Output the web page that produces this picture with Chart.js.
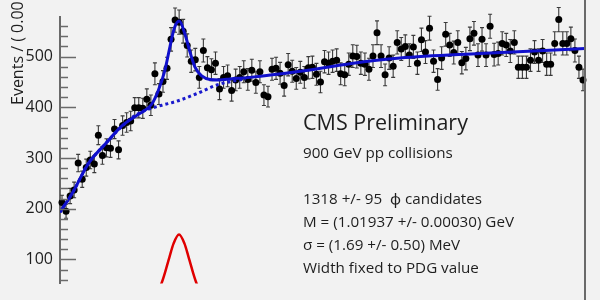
<!DOCTYPE html>
<html>
<head>
<meta charset="utf-8">
<script src="https://cdn.jsdelivr.net/npm/chart.js@4.4.0/dist/chart.umd.min.js"></script>
<style>
  html, body { margin: 0; padding: 0; background: #f2f2f2; }
</style>
</head>
<body>
<canvas id="myChart" width="600" height="300"></canvas>
<script>
// K+K- invariant mass histogram, 1 MeV bins starting at 0.99 GeV
const binLow = 0.99;
const binWidth = 0.001;
const counts = [
  212, 195, 225, 237, 290, 258, 281, 296, 288, 345,
  305, 320, 319, 357, 316, 364, 370, 373, 399, 399,
  398, 416, 404, 466, 426, 451, 477, 534, 572, 568,
  550, 522, 491, 494, 459, 512, 478, 474, 487, 436,
  459, 462, 433, 454, 459, 470, 455, 473, 449, 470,
  424, 421, 475, 477, 467, 443, 484, 471, 457, 469,
  459, 478, 479, 465, 450, 490, 487, 491, 493, 466,
  464, 485, 501, 500, 487, 485, 475, 501, 547, 501,
  464, 497, 481, 528, 515, 520, 503, 519, 487, 533,
  509, 556, 491, 455, 497, 544, 523, 508, 528, 488,
  496, 535, 546, 503, 534, 503, 560, 504, 506, 526,
  523, 511, 528, 479, 479, 479, 493, 509, 493, 511,
  485, 485, 526, 573, 526, 526, 535, 512, 479, 454
];

// total fit (signal + background)
const fitMass   = [0.99, 0.99329, 0.99701, 1.00114, 1.00528, 1.00939, 1.01271, 1.01434, 1.016, 1.01724, 1.0183, 1.01954, 1.02095, 1.02219, 1.02343, 1.02509, 1.02714, 1.02962, 1.0321, 1.03705, 1.04943, 1.06181, 1.07419, 1.094, 1.12];
const fitEvents = [193, 234, 289, 327, 363, 386, 406, 433, 474, 520, 556, 570, 544, 509, 479, 462, 455, 454, 456, 459, 471, 486, 497, 506, 516];

// background only (dotted)
const bkgMass   = [0.99, 0.99329, 0.99701, 1.00114, 1.00528, 1.00864, 1.0115, 1.01521, 1.01893, 1.02388, 1.02883, 1.03378, 1.036];
const bkgEvents = [193, 234, 289, 327, 362, 384, 395, 404, 412, 427, 444, 453, 456];

// signal only (red)
const sigMass   = [1.005, 1.01, 1.0125, 1.01514, 1.01712, 1.01811, 1.01947, 1.02083, 1.02182, 1.0238, 1.0265, 1.031, 1.036];
const sigEvents = [3, 10, 22, 53, 105, 131, 149, 131, 105, 53, 22, 10, 3];

const yTicks = [100, 200, 300, 400, 500];
const yTitle = "Events / ( 0.001 GeV )";
const headline = "CMS Preliminary";
const infoLines = [
  { text: "900 GeV pp collisions", y: 158 },
  { text: "1318 +/- 95  \u03d5 candidates", y: 204 },
  { text: "M = (1.01937 +/- 0.00030) GeV", y: 227 },
  { text: "\u03c3 = (1.69 +/- 0.50) MeV", y: 250 },
  { text: "Width fixed to PDG value", y: 272.5 }
];

const FONT = "'Open Sans', 'Noto Sans', sans-serif";

const points = counts.map((c, i) => ({ x: binLow + binWidth * (i + 0.5), y: c }));
const pairs = (xs, ys) => xs.map((x, i) => ({ x: x, y: ys[i] }));

// error bars (sqrt N) drawn just before the markers
const errorBars = {
  id: 'errorBars',
  beforeDatasetDraw(chart, args) {
    if (args.index !== 0) return;
    const ctx = chart.ctx, xs = chart.scales.x, ys = chart.scales.y;
    ctx.save();
    ctx.strokeStyle = '#3a3a3a';
    ctx.lineWidth = 1.1;
    counts.forEach((c, i) => {
      const px = xs.getPixelForValue(points[i].x);
      const e = Math.sqrt(c);
      const top = ys.getPixelForValue(c + e), bot = ys.getPixelForValue(c - e);
      ctx.beginPath();
      ctx.moveTo(px, top); ctx.lineTo(px, bot);
      ctx.moveTo(px - 2, top); ctx.lineTo(px + 2, top);
      ctx.moveTo(px - 2, bot); ctx.lineTo(px + 2, bot);
      ctx.stroke();
    });
    ctx.restore();
  }
};

// inward ticks, right frame and text
const decor = {
  id: 'decor',
  afterDraw(chart) {
    const ctx = chart.ctx, ys = chart.scales.y, a = chart.chartArea;
    ctx.save();
    ctx.strokeStyle = '#6a6a6a';
    ctx.lineWidth = 1.5;
    for (let v = 60; v <= 570; v += 20) {
      const py = Math.round(ys.getPixelForValue(v)) + 0.5;
      const len = (v % 100 === 0) ? 16 : 8;
      ctx.beginPath();
      ctx.moveTo(a.left, py); ctx.lineTo(a.left + len, py);
      ctx.stroke();
    }
    ctx.lineWidth = 2;
    ctx.beginPath();
    ctx.moveTo(a.right, 0); ctx.lineTo(a.right, chart.height);
    ctx.stroke();

    ctx.fillStyle = '#1e1e1e';
    ctx.save();
    ctx.translate(23, 105);
    ctx.rotate(-Math.PI / 2);
    ctx.font = '16px ' + FONT;
    ctx.textAlign = 'left';
    ctx.textBaseline = 'alphabetic';
    ctx.fillText(yTitle, 0, 0);
    ctx.restore();

    ctx.textAlign = 'left';
    ctx.textBaseline = 'alphabetic';
    ctx.font = '21.5px ' + FONT;
    ctx.fillText(headline, 303, 130);
    ctx.font = '15.2px ' + FONT;
    infoLines.forEach(l => ctx.fillText(l.text, 303, l.y));
    ctx.restore();
  }
};

const data = {
  datasets: [
    {
      label: 'data',
      data: points,
      showLine: false,
      pointRadius: 3.5,
      pointBackgroundColor: '#000',
      pointBorderWidth: 0,
      clip: false,
      order: 2
    },
    {
      label: 'background',
      data: pairs(bkgMass, bkgEvents),
      showLine: true,
      pointRadius: 0,
      borderColor: '#1a1acc',
      borderWidth: 3,
      borderDash: [3, 3],
      cubicInterpolationMode: 'monotone',
      order: 1
    },
    {
      label: 'fit',
      data: pairs(fitMass, fitEvents),
      showLine: true,
      pointRadius: 0,
      borderColor: '#1010cc',
      borderWidth: 3,
      cubicInterpolationMode: 'monotone',
      order: 0
    },
    {
      label: 'signal',
      data: pairs(sigMass, sigEvents),
      showLine: true,
      pointRadius: 0,
      borderColor: '#e00000',
      borderWidth: 2.5,
      cubicInterpolationMode: 'monotone',
      order: 0
    }
  ]
};

const config = {
  type: 'scatter',
  data,
  options: {
    responsive: false,
    animation: false,
    devicePixelRatio: 1,
    layout: { padding: { left: 0, right: 15, top: 0, bottom: 0 } },
    plugins: { legend: { display: false }, tooltip: { enabled: false } },
    scales: {
      x: { type: 'linear', min: 0.99, max: 1.12, display: false },
      y: {
        type: 'linear',
        min: 52.6,
        max: 578.9,
        afterFit(s) { s.width = 60; },
        afterBuildTicks(s) { s.ticks = yTicks.map(v => ({ value: v })); },
        grid: { display: false, drawTicks: false },
        border: { display: true, color: '#6a6a6a', width: 2 },
        ticks: { padding: 7, color: '#1e1e1e', font: { family: FONT, size: 16 } }
      }
    }
  },
  plugins: [errorBars, decor]
};

const myChart = new Chart(document.getElementById('myChart'), config);
</script>
</body>
</html>
